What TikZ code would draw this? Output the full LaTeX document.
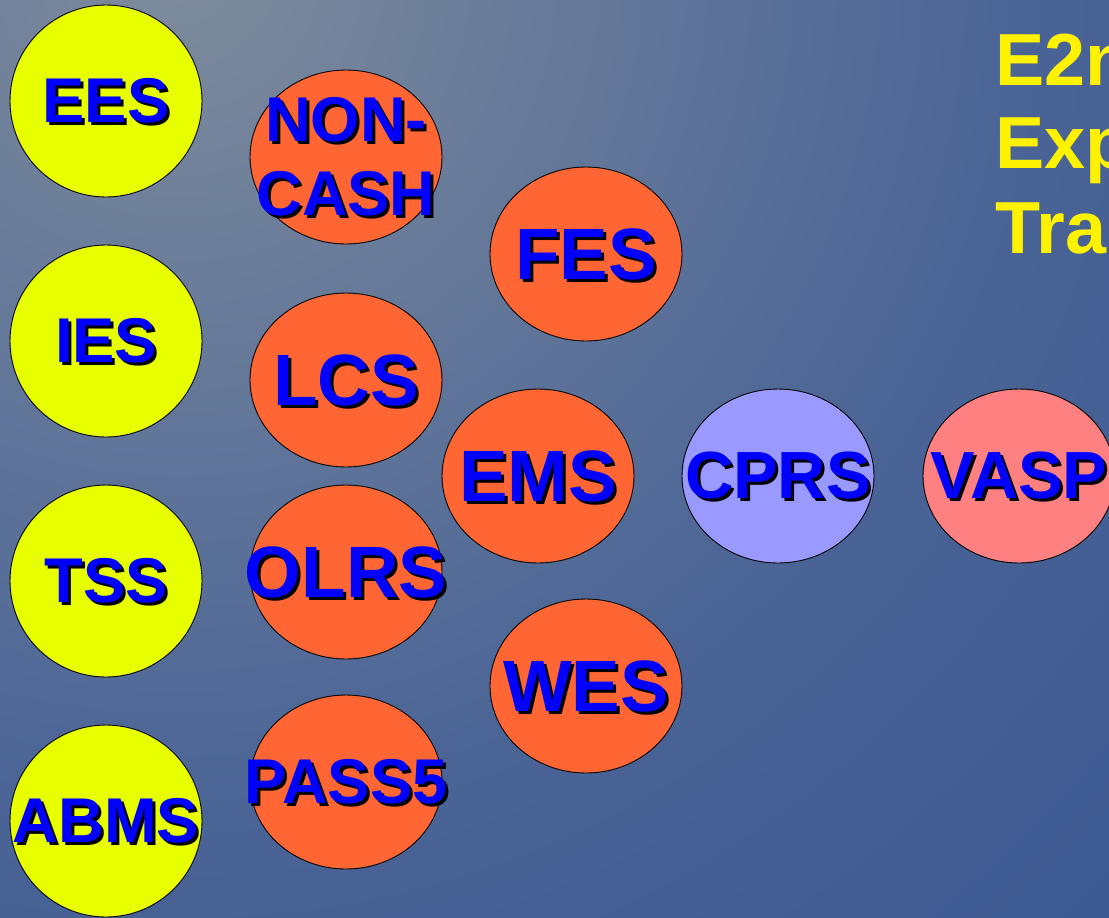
\documentclass[tikz,border=0pt]{standalone}
\usepackage{fontspec}
\setmainfont{Liberation Sans}
\usetikzlibrary{shapes.geometric}

\definecolor{bgtop}{RGB}{126,139,156}
\definecolor{bgmid}{RGB}{74,100,150}
\definecolor{bgbot}{RGB}{30,64,136}
\definecolor{srcyellow}{RGB}{232,255,0}
\definecolor{midorange}{RGB}{255,102,51}
\definecolor{cprsblue}{RGB}{153,153,255}
\definecolor{vasppink}{RGB}{255,128,128}
\pgfdeclareradialshading{slidebg}{\pgfpoint{0bp}{0bp}}{color(0bp)=(bgtop); color(14bp)=(bgmid); color(40bp)=(bgbot); color(50bp)=(bgbot)}

\begin{document}
\begin{tikzpicture}[x=0.02cm, y=-0.02cm,
  sys/.style={ellipse, draw=black, line width=0.5pt, minimum width=3.84cm,
    minimum height=3.48cm, inner sep=0pt},
  srcsys/.style={sys, fill=srcyellow, minimum height=3.84cm},
  midsys/.style={sys, fill=midorange},
  lbl/.style={text=blue, align=center, inner sep=0pt},
  lblshadow/.style={lbl, text=black},
  fsmall/.style={font=\bfseries\fontsize{36}{42}\selectfont},
  fmed/.style={font=\bfseries\fontsize{38}{44}\selectfont},
  flarge/.style={font=\bfseries\fontsize{41.4}{48}\selectfont},
  ttl/.style={anchor=base west, text=yellow, inner sep=0pt,
    font=\bfseries\fontsize{42}{48}\selectfont}]
  \clip (0,0) rectangle (1109,917);
  \shade[shading=slidebg] (180,-30) circle (30cm);

  % source systems
  \node [srcsys] (ees) at (106,101) {};
  \node [srcsys] (ies) at (106,341) {};
  \node [srcsys] (tss) at (106,581) {};
  \node [srcsys] (abms) at (106,821) {};
  % feeder systems
  \node [midsys] (noncash) at (346,157) {};
  \node [midsys] (lcs) at (346,380) {};
  \node [midsys] (olrs) at (346,572) {};
  \node [midsys] (pass) at (346,782) {};
  \node [midsys] (fes) at (586,254) {};
  \node [midsys] (ems) at (538,476) {};
  \node [midsys] (wes) at (586,686) {};
  \node [sys, fill=cprsblue] (cprs) at (778,476) {};
  \node [sys, fill=vasppink] (vasp) at (1019,476) {};

  \foreach \nm/\txt/\sz in {ees/EES/fsmall, ies/IES/fsmall, tss/TSS/fsmall,
      abms/ABMS/fsmall, noncash/{NON-\\CASH}/fsmall, lcs/LCS/flarge,
      olrs/OLRS/flarge, pass/PASS5/fsmall, fes/FES/flarge, ems/EMS/flarge,
      wes/WES/flarge, cprs/CPRS/fmed, vasp/VASP/fmed} {
    \node [lblshadow, \sz] at ([shift={(3,3)}]\nm) {\txt};
    \node [lbl, \sz] at (\nm) {\txt};
  }

  % title, cut at the right edge
  \node [ttl] (t1) at (995,85) {E2n};
  \node [ttl] (t2) at (995,168) {Exp};
  \node [ttl] (t3) at (995,253) {Tra};
\end{tikzpicture}
\end{document}
